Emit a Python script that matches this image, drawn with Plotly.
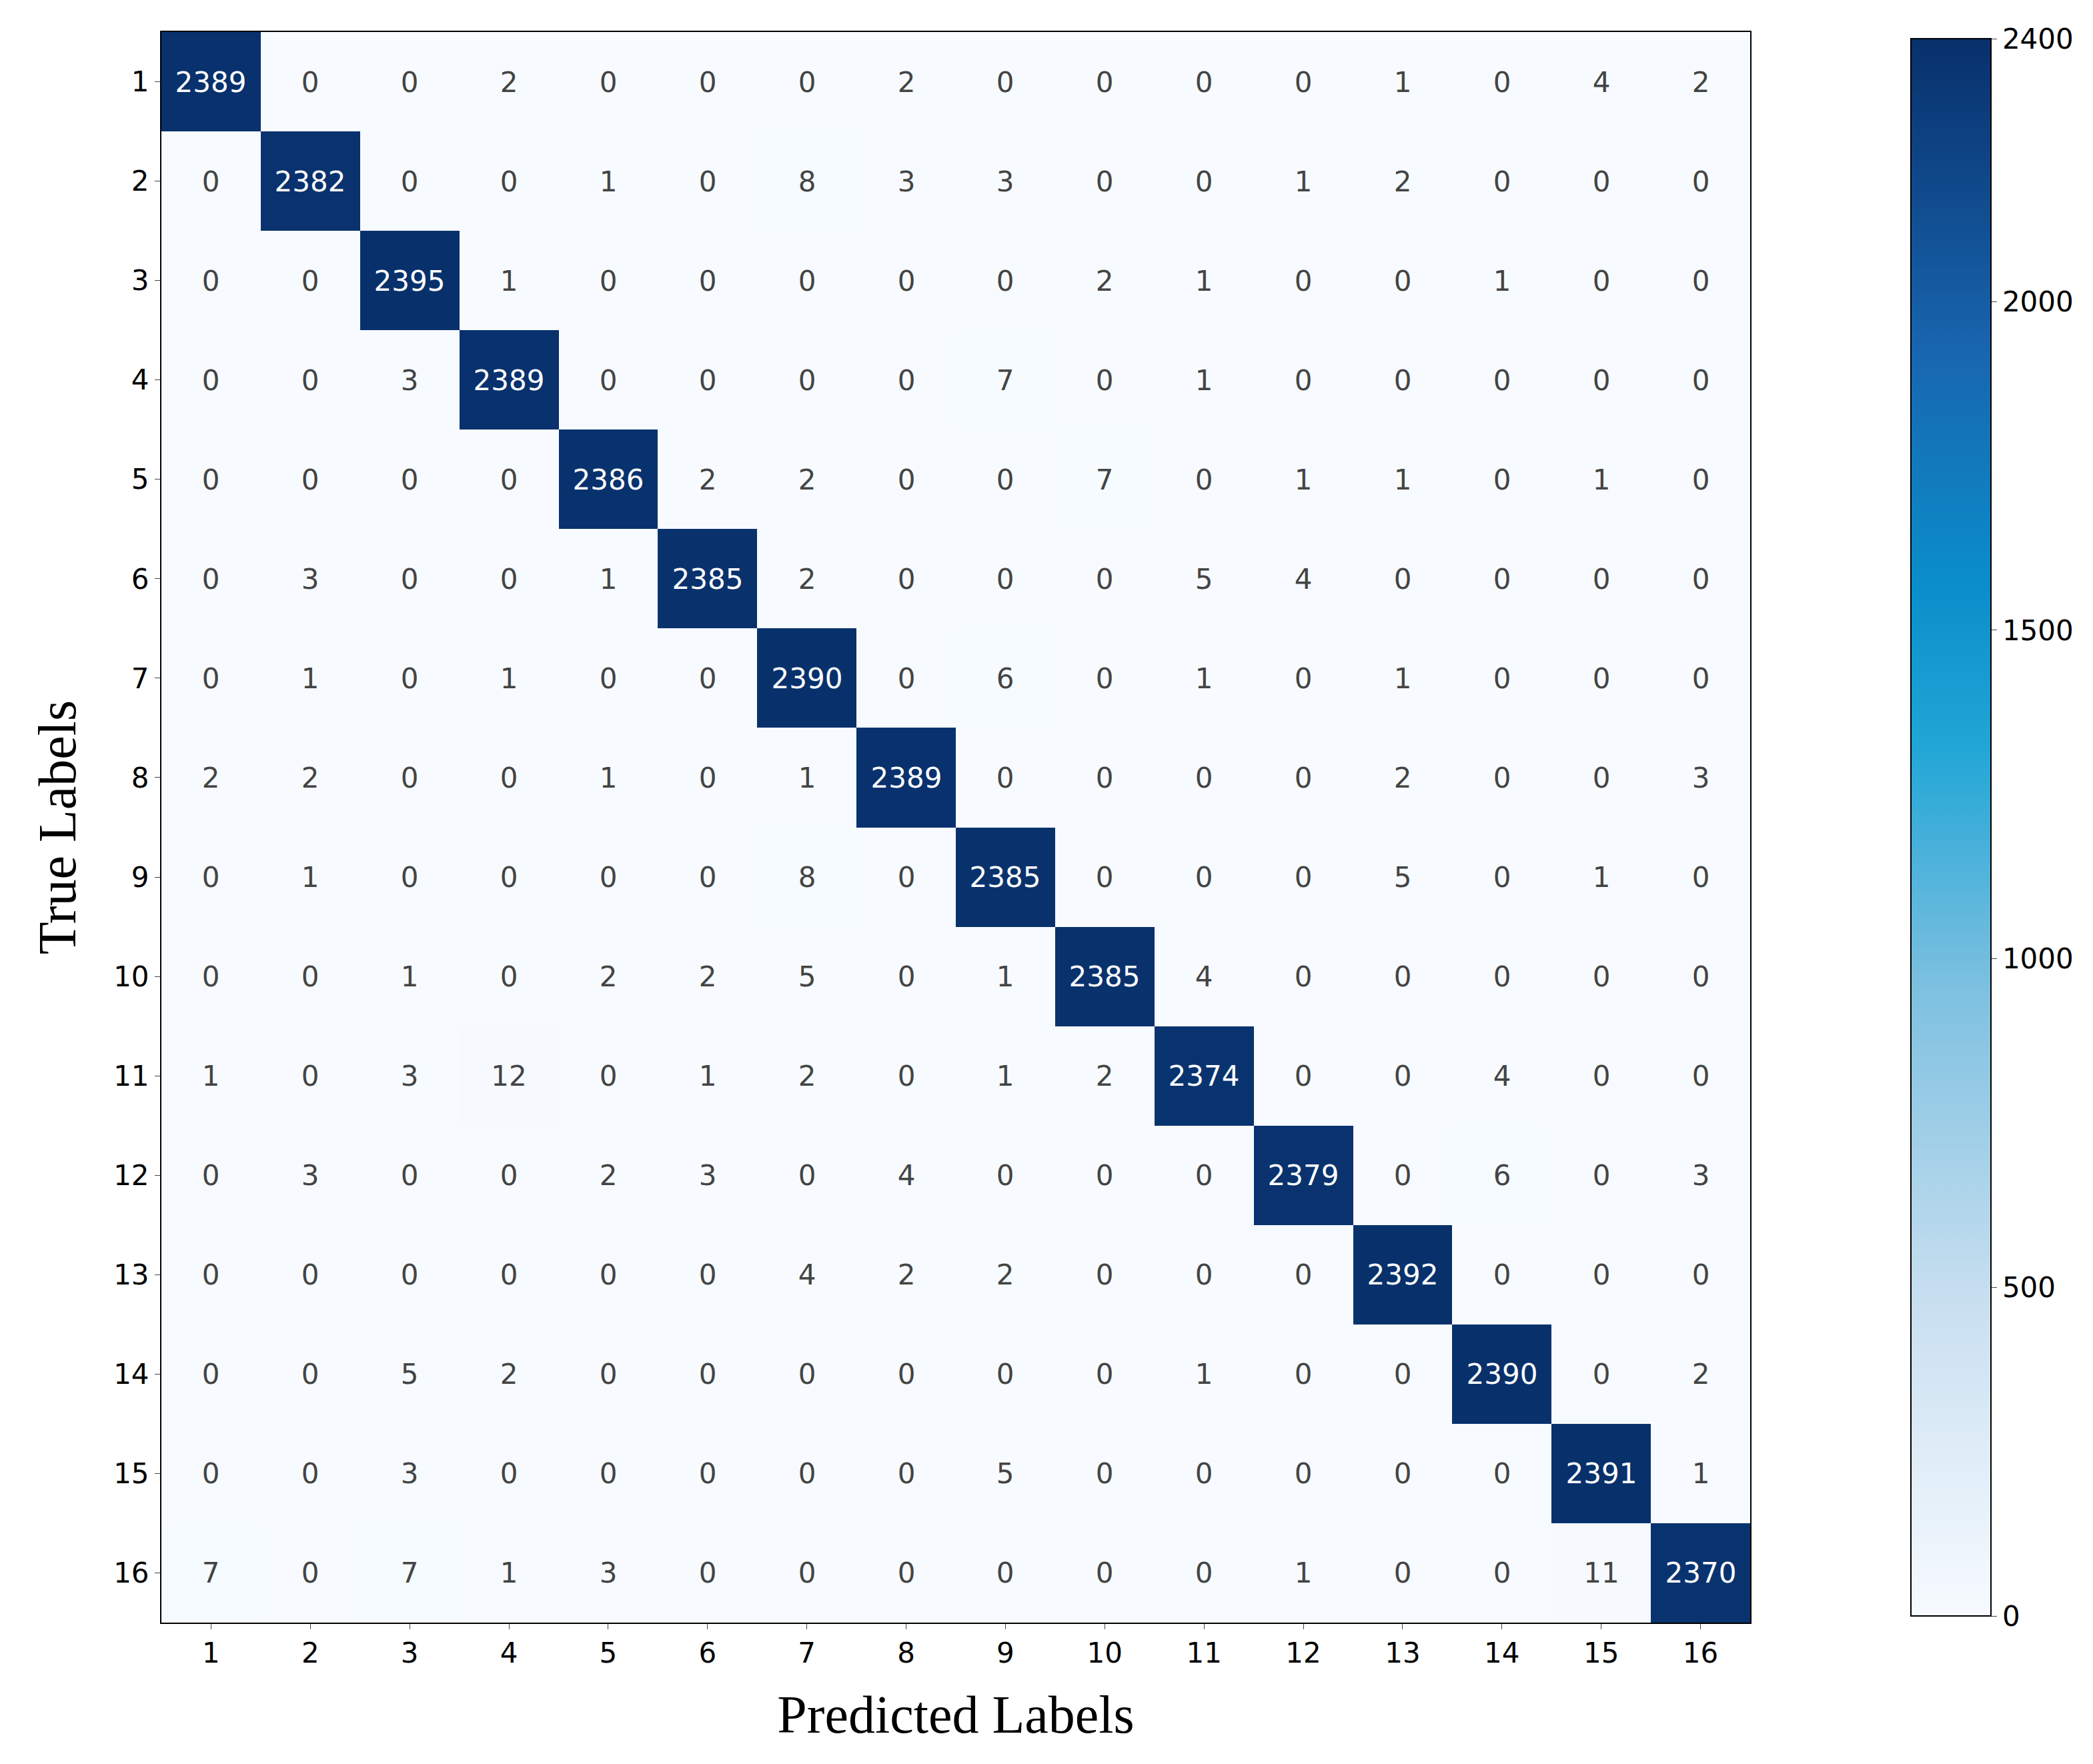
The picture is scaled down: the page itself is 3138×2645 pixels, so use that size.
import plotly.graph_objects as go

labels = [str(i) for i in range(1, 17)]

counts = [
    [2389, 0, 0, 2, 0, 0, 0, 2, 0, 0, 0, 0, 1, 0, 4, 2],
    [0, 2382, 0, 0, 1, 0, 8, 3, 3, 0, 0, 1, 2, 0, 0, 0],
    [0, 0, 2395, 1, 0, 0, 0, 0, 0, 2, 1, 0, 0, 1, 0, 0],
    [0, 0, 3, 2389, 0, 0, 0, 0, 7, 0, 1, 0, 0, 0, 0, 0],
    [0, 0, 0, 0, 2386, 2, 2, 0, 0, 7, 0, 1, 1, 0, 1, 0],
    [0, 3, 0, 0, 1, 2385, 2, 0, 0, 0, 5, 4, 0, 0, 0, 0],
    [0, 1, 0, 1, 0, 0, 2390, 0, 6, 0, 1, 0, 1, 0, 0, 0],
    [2, 2, 0, 0, 1, 0, 1, 2389, 0, 0, 0, 0, 2, 0, 0, 3],
    [0, 1, 0, 0, 0, 0, 8, 0, 2385, 0, 0, 0, 5, 0, 1, 0],
    [0, 0, 1, 0, 2, 2, 5, 0, 1, 2385, 4, 0, 0, 0, 0, 0],
    [1, 0, 3, 12, 0, 1, 2, 0, 1, 2, 2374, 0, 0, 4, 0, 0],
    [0, 3, 0, 0, 2, 3, 0, 4, 0, 0, 0, 2379, 0, 6, 0, 3],
    [0, 0, 0, 0, 0, 0, 4, 2, 2, 0, 0, 0, 2392, 0, 0, 0],
    [0, 0, 5, 2, 0, 0, 0, 0, 0, 0, 1, 0, 0, 2390, 0, 2],
    [0, 0, 3, 0, 0, 0, 0, 0, 5, 0, 0, 0, 0, 0, 2391, 1],
    [7, 0, 7, 1, 3, 0, 0, 0, 0, 0, 0, 1, 0, 0, 11, 2370],
]

cbar_ticks = [0, 500, 1000, 1500, 2000, 2400]

# white -> light blue -> cyan -> deep navy, like the reference bar
scale = [
    [0.0, '#f7fbff'],
    [0.2, '#c8dff0'],
    [0.4, '#7cc0e0'],
    [0.55, '#22a6d6'],
    [0.65, '#0a8fcb'],
    [0.8, '#1866b0'],
    [1.0, '#08306b'],
]

fig = go.Figure(go.Heatmap(
    z=counts, x=labels, y=labels,
    colorscale=scale, zmin=0, zmax=2400,
    texttemplate='%{z}',
    textfont=dict(family='DejaVu Sans', size=42),
    colorbar=dict(
        tickvals=cbar_ticks, ticks='outside', ticklen=8,
        tickfont=dict(family='DejaVu Sans', size=42, color='black'),
        outlinecolor='black', outlinewidth=2,
        thickness=120, len=1.0, lenmode='fraction',
        x=1.097, xanchor='left', y=0.5, yanchor='middle',
    ),
))

fig.update_layout(
    width=3138, height=2645,
    paper_bgcolor='white', plot_bgcolor='white',
    margin=dict(l=234, r=522, t=40, b=220),
    xaxis=dict(
        title=dict(text='Predicted Labels', font=dict(family='Liberation Serif', size=80, color='black'), standoff=40),
        tickfont=dict(family='DejaVu Sans', size=42, color='black'),
        ticks='outside', ticklen=8, showline=True, linecolor='black', linewidth=2, mirror=True,
    ),
    yaxis=dict(
        title=dict(text='True Labels', font=dict(family='Liberation Serif', size=80, color='black'), standoff=30),
        tickfont=dict(family='DejaVu Sans', size=42, color='black'),
        autorange='reversed',
        ticks='outside', ticklen=8, showline=True, linecolor='black', linewidth=2, mirror=True,
    ),
)

fig.write_html("out.html")
